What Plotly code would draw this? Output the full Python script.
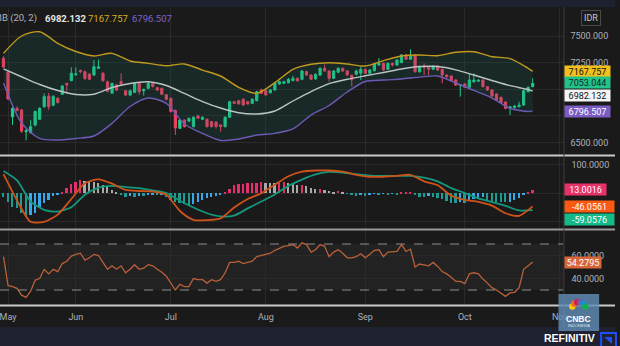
import math
import plotly.graph_objects as go

# ---------------- data ----------------
months = ["May", "Jun", "Jul", "Aug", "Sep", "Oct", "Nov"]
month_idx = [1, 16, 37, 58, 80, 102, 123]

opens = [7290, 7160, 6740, 6820, 6805, 6600, 6590, 6663, 6717, 6835, 6935, 6850, 6915, 6952, 7055, 7080, 7135, 7175, 7165, 7142,
         7133, 7196, 7150, 7070, 6962, 7040, 7072, 6985, 6945, 6970, 7055, 6985, 7008, 7055, 7015, 7008, 6948, 6915, 6800, 6632,
         6710, 6700, 6648, 6748, 6717, 6717, 6695, 6690, 6663, 6648, 6736, 6882, 6892, 6905, 6882, 6867, 6892, 6992, 6985, 6967,
         6992, 7049, 7055, 7061, 7080, 7102, 7093, 7165, 7133, 7096, 7133, 7196, 7171, 7102, 7160, 7196, 7171, 7130, 7140, 7150,
         7187, 7150, 7174, 7227, 7243, 7187, 7243, 7227, 7250, 7321, 7281, 7321, 7164, 7218, 7206, 7187, 7218, 7187, 7133, 7124,
         7086, 7035, 7049, 7018, 7070, 7075, 7086, 7024, 6992, 6955, 6924, 6880, 6820, 6826, 6835, 6851, 6976, 7024]
highs = [7310, 7170, 6830, 6840, 6815, 6625, 6710, 6800, 6830, 6960, 6965, 6945, 6925, 7040, 7060, 7205, 7205, 7185, 7175, 7150,
         7274, 7280, 7160, 7080, 7060, 7050, 7150, 6990, 6995, 7065, 7065, 7005, 7070, 7065, 7020, 7015, 6955, 6920, 6810, 6720,
         6715, 6735, 6745, 6760, 6745, 6725, 6700, 6700, 6670, 6745, 6890, 6890, 6900, 6915, 6890, 6915, 6985, 7005, 6995, 7000,
         7065, 7080, 7080, 7105, 7125, 7110, 7180, 7175, 7140, 7150, 7205, 7230, 7180, 7180, 7205, 7205, 7180, 7140, 7185, 7215,
         7195, 7190, 7245, 7293, 7250, 7250, 7250, 7285, 7330, 7330, 7375, 7330, 7220, 7243, 7215, 7225, 7225, 7195, 7140, 7130,
         7095, 7045, 7055, 7150, 7150, 7095, 7095, 7030, 7000, 6960, 6930, 6885, 6840, 6850, 6882, 6995, 7025, 7102]
lows = [7200, 6900, 6665, 6790, 6590, 6520, 6585, 6650, 6710, 6825, 6805, 6840, 6865, 6945, 6975, 7075, 7130, 7150, 7085, 7085,
        7125, 7190, 7070, 6970, 6955, 6980, 7035, 6935, 6935, 6965, 6950, 6940, 7000, 7015, 6985, 6945, 6895, 6780, 6570, 6625,
        6640, 6690, 6640, 6720, 6710, 6640, 6640, 6630, 6600, 6640, 6730, 6860, 6855, 6845, 6855, 6860, 6885, 6955, 6940, 6960,
        6985, 7040, 7050, 7055, 7075, 7070, 7085, 7125, 7085, 7090, 7125, 7165, 7070, 7095, 7150, 7165, 7125, 7025, 7130, 7086,
        7140, 7145, 7165, 7220, 7175, 7180, 7215, 7220, 7245, 7275, 7275, 7155, 7155, 7133, 7133, 7180, 7170, 7055, 7105, 7070,
        7030, 6930, 7010, 7010, 7060, 7070, 7015, 6985, 6925, 6890, 6865, 6810, 6757, 6820, 6830, 6845, 6970, 7018]
closes = [7209, 6908, 6820, 6800, 6605, 6610, 6648, 6790, 6820, 6930, 6835, 6930, 6875, 7030, 7040, 7150, 7143, 7165, 7102, 7093,
          7212, 7210, 7080, 6980, 7055, 6992, 7050, 6945, 6985, 7055, 6977, 6998, 7055, 7025, 6992, 6952, 6905, 6790, 6635, 6710,
          6648, 6725, 6736, 6727, 6736, 6648, 6648, 6650, 6648, 6736, 6882, 6867, 6861, 6851, 6861, 6905, 6976, 6961, 6945, 6992,
          7055, 7070, 7070, 7093, 7102, 7080, 7171, 7133, 7093, 7140, 7196, 7171, 7102, 7171, 7196, 7171, 7133, 7090, 7171, 7187,
          7150, 7180, 7237, 7243, 7180, 7243, 7227, 7274, 7321, 7281, 7321, 7164, 7211, 7206, 7187, 7218, 7180, 7133, 7118, 7080,
          7039, 7042, 7018, 7086, 7086, 7083, 7024, 6992, 6936, 6898, 6873, 6820, 6835, 6842, 6850, 6986, 7018, 7053.044]
days = list(range(len(closes)))

# Bollinger Bands (20, 2), read every 4 sessions
bb_x = [0, 4, 8, 12, 16, 20, 24, 28, 32, 36, 40, 44, 48, 52, 56, 60, 64, 68, 72, 76, 80, 84, 88, 92, 96, 100, 104, 108, 112, 116, 117]
bb_upper = [7337, 7500, 7540, 7431, 7354, 7312, 7337, 7265, 7243, 7221, 7237, 7180, 7124, 7018, 6961, 7061, 7187, 7234, 7249, 7237,
            7218, 7268, 7312, 7321, 7315, 7347, 7352, 7305, 7287, 7196, 7167.757]
bb_mid = [7190, 7117, 7044, 6988, 6950, 6953, 7016, 7054, 7070, 7035, 6960, 6884, 6823, 6779, 6767, 6795, 6889, 6978, 7052, 7093,
          7126, 7157, 7190, 7213, 7213, 7182, 7133, 7082, 7033, 6997, 6982.132]
bb_lower = [7058, 6682, 6537, 6522, 6537, 6560, 6679, 6837, 6917, 6866, 6673, 6584, 6518, 6532, 6569, 6585, 6626, 6757, 6847, 6974,
            7072, 7086, 7096, 7113, 7124, 7058, 6988, 6917, 6820, 6790, 6796.507]

# MACD lines, read every 3 sessions
macd_x = list(range(0, 118, 3))
macd_line = [67, -25, -100, -100, -75, -20, 35, 49, 34, 12, 8, 6, -5, -62, -93, -94, -88, -50, -20, 0,
             30, 60, 76, 80, 80, 76, 65, 58, 58, 61, 65, 42, 28, -8, -23, -30, -43, -70, -79, -46.0561]
signal_line = [78, 45, -29, -58, -64, -49, -5, 20, 26, 22, 18, 10, 1, -26, -50, -70, -81, -78, -53, -29,
               -4, 26, 48, 66, 75, 73, 67, 62, 61, 61, 61, 55, 42, 18, 1, -18, -31, -44, -60, -59.0576]
hist = [-12, -29, -47, -53, -70, -82, -76, -70, -47, -35, -23, -8, -3, 6, 20, 33, 40, 45, 44, 41,
        38, 36, 29, 22, 12, 5, -3, -12, -8, -12, -8, -9, -6, -3, -6, -5, -12, -23, -29, -35,
        -38, -41, -36, -29, -23, -18, -12, -8, -3, 6, 14, 29, 33, 34, 35, 35.5, 36, 38, 37, 36,
        35, 36, 41, 37, 36, 28, 29, 26, 18, 14, 15, 12, 8, 6, 7, 3, -2, -6, -8, -6,
        -8, -3, -2, -3, -2, -3, -2, -3, 3, 5, 6, -3, -12, -13, -8, -12, -18, -21, -26, -33,
        -34, -29, -33, -23, -21, -18, -14, -23, -26, -29, -30, -32, -29, -23, -18, -6, 6, 13.0016]

rsi = [59, 34, 33, 31.5, 25.5, 23.6, 29, 38.5, 40, 48, 44, 48, 46, 53, 55, 59.5, 61, 62, 56, 58,
       61, 60, 54, 48, 51, 48, 51, 45, 48, 52, 48, 49, 52, 51, 48, 45.5, 42, 36, 30, 35,
       33, 33, 40, 39, 39, 36, 39, 37.5, 39, 45, 54, 54, 55, 53, 54, 55, 59, 60, 61, 62,
       64.5, 66.5, 68, 68.5, 69.5, 66.5, 71, 69.5, 63, 65, 69.5, 68, 59, 63, 65, 62, 58, 58, 59, 61.5,
       58, 61, 64.5, 65, 59, 63, 63.5, 63.5, 69.5, 63.5, 65.5, 50, 52.6, 52, 51, 54, 50.5, 46, 44, 41,
       37.5, 37.5, 35.5, 44, 45, 44, 39.5, 36, 32, 30, 27.5, 24.5, 27.5, 28, 32, 48, 51, 54.2795]

price_ticks = [6500, 6750, 7000, 7250, 7500]
price_ticktext = ["6500.000", "", "", "7250.000", "7500.000"]   # middle labels sit under the value tags
macd_ticks = [-100, 0, 100]
macd_ticktext = ["", "", "100.0000"]
rsi_ticks = [40, 60]
rsi_ticktext = ["40.0000", "60.0000"]
rsi_bands = [30, 70]

# ---------------- styling helpers ----------------
W, H = 620, 346
def fx(px):
    return px / W
def fy(py):
    return 1 - py / H

BG = "#1a1a1a"
GRID = "#2a2a2a"
NAVY = "#1d2130"
TXT = "#aeb1b8"
UP = "#22cf8c"
DN = "#f0415f"
FONT = "Roboto"

fig = go.Figure()

# Bollinger bands
fig.add_trace(go.Scatter(x=bb_x, y=bb_upper, mode="lines", line=dict(color="#bf9a1c", width=1.4, shape="spline", smoothing=0.8),
                         xaxis="x", yaxis="y", hoverinfo="skip"))
fig.add_trace(go.Scatter(x=bb_x, y=bb_lower, mode="lines", line=dict(color="#6c5bb6", width=1.4, shape="spline", smoothing=0.8),
                         fill="tonexty", fillcolor="rgba(25,120,110,0.17)", xaxis="x", yaxis="y", hoverinfo="skip"))
fig.add_trace(go.Scatter(x=bb_x, y=bb_mid, mode="lines", line=dict(color="#b9c3c3", width=1.4, shape="spline", smoothing=0.8),
                         xaxis="x", yaxis="y", hoverinfo="skip"))

fig.add_trace(go.Candlestick(x=days, open=opens, high=highs, low=lows, close=closes,
                             increasing=dict(line=dict(color=UP, width=1), fillcolor=UP),
                             decreasing=dict(line=dict(color=DN, width=1), fillcolor=DN),
                             xaxis="x", yaxis="y", hoverinfo="skip"))

# MACD histogram colours derived from direction
hist_colors = []
for k, h in enumerate(hist):
    prev = hist[k - 1] if k else 0
    if h >= 0:
        hist_colors.append("#e3306b" if h > prev else "#a9a9a9")
    else:
        hist_colors.append("#1e9c94" if h < prev else "#3aa7ea")
fig.add_trace(go.Bar(x=days, y=hist, marker=dict(color=hist_colors, line=dict(width=0)), width=0.4,
                     xaxis="x2", yaxis="y2", hoverinfo="skip"))
fig.add_trace(go.Scatter(x=macd_x, y=signal_line, mode="lines", line=dict(color="#14977a", width=1.8, shape="spline", smoothing=0.7),
                         xaxis="x2", yaxis="y2", hoverinfo="skip"))
fig.add_trace(go.Scatter(x=macd_x, y=macd_line, mode="lines", line=dict(color="#cf5219", width=1.8, shape="spline", smoothing=0.7),
                         xaxis="x2", yaxis="y2", hoverinfo="skip"))

# RSI
fig.add_trace(go.Scatter(x=days, y=rsi, mode="lines", line=dict(color="#b9603a", width=1.3),
                         xaxis="x3", yaxis="y3", hoverinfo="skip"))

xr = [-0.77, 123.8]
xdom = [0, fx(568)]
common_x = dict(range=xr, domain=xdom, tickvals=month_idx, ticktext=months, showgrid=True, gridcolor=GRID,
                gridwidth=1, zeroline=False, showline=False, ticks="", fixedrange=True)
ytick_font = dict(family=FONT, size=9, color=TXT)

fig.update_layout(
    width=W, height=H, margin=dict(l=0, r=0, t=0, b=0),
    paper_bgcolor=BG, plot_bgcolor=BG, showlegend=False, bargap=0,
    xaxis=dict(common_x, anchor="y", showticklabels=False, rangeslider=dict(visible=False)),
    xaxis2=dict(common_x, anchor="y2", showticklabels=False, matches="x"),
    xaxis3=dict(common_x, anchor="y3", showticklabels=True, matches="x", ticklabeloverflow="allow",
                tickfont=dict(family=FONT, size=9, color=TXT), ticklabelstandoff=5),
    yaxis=dict(domain=[fy(155), fy(8)], range=[6381.4, 7763.2], side="right", anchor="x",
               tickvals=price_ticks, ticktext=price_ticktext, showgrid=True, gridcolor=GRID, zeroline=False,
               tickfont=ytick_font, ticks="", ticklabelstandoff=6),
    yaxis2=dict(domain=[fy(229), fy(157)], range=[-125.3, 127.4], side="right", anchor="x2",
                tickvals=macd_ticks, ticktext=macd_ticktext, showgrid=True, gridcolor=GRID, zeroline=False,
                tickfont=ytick_font, ticks="", ticklabelstandoff=7),
    yaxis3=dict(domain=[fy(305), fy(231)], range=[16.96, 81.3], side="right", anchor="x3",
                tickvals=rsi_ticks, ticktext=rsi_ticktext, showgrid=True, gridcolor=GRID, zeroline=False,
                tickfont=ytick_font, ticks="", ticklabelstandoff=7),
)

shapes = []
# RSI band background and dashed limits
shapes.append(dict(type="rect", xref="x3", yref="y3", x0=xr[0], x1=xr[1], y0=rsi_bands[0], y1=rsi_bands[1],
                   fillcolor="#222222", line=dict(width=0), layer="below"))
for lv in rsi_bands:
    shapes.append(dict(type="line", xref="x3", yref="y3", x0=xr[0], x1=xr[1], y0=lv, y1=lv,
                       line=dict(color="#8c8c8c", width=1, dash="dash")))
# top and bottom strips
shapes.append(dict(type="rect", xref="paper", yref="paper", x0=0, x1=1, y0=fy(7), y1=1, fillcolor=NAVY, line=dict(width=0)))
shapes.append(dict(type="rect", xref="paper", yref="paper", x0=0, x1=1, y0=0, y1=fy(327), fillcolor=NAVY, line=dict(width=0)))
# panel separators
for sy, col in [(155.5, "#c9c9c9"), (229.5, "#9a9a9a"), (305.5, "#c9c9c9")]:
    shapes.append(dict(type="line", xref="paper", yref="paper", x0=0, x1=1, y0=fy(sy), y1=fy(sy),
                       line=dict(color=col, width=2)))
# price axis border
shapes.append(dict(type="line", xref="paper", yref="paper", x0=fx(568.5), x1=fx(568.5), y0=fy(327), y1=fy(7),
                   line=dict(color="#3d3d3d", width=1)))
# CNBC logo block
shapes.append(dict(type="rect", xref="paper", yref="paper", x0=fx(563), x1=fx(604), y0=fy(331), y1=fy(294),
                   fillcolor="rgba(96,140,182,0.82)", line=dict(width=0)))
feather = ["#fcc80a", "#f37021", "#cc1f4d", "#6d5fae", "#1a8fd0", "#11b04f"]
for k, col in enumerate(feather):
    ang = math.radians(160 - k * 28)
    cx = 583.5 + 7 * math.cos(ang)
    cy = 309 - 7 * math.sin(ang)
    shapes.append(dict(type="circle", xref="paper", yref="paper", x0=fx(cx - 3.2), x1=fx(cx + 3.2),
                       y0=fy(cy + 3.2), y1=fy(cy - 3.2), fillcolor=col, line=dict(width=0)))
# blue corner box
shapes.append(dict(type="rect", xref="paper", yref="paper", x0=fx(606), x1=fx(621), y0=fy(347), y1=fy(333),
                   fillcolor="rgba(0,0,0,0)", line=dict(color="#1f4dff", width=2)))
shapes.append(dict(type="path", xref="paper", yref="paper",
                   path=f"M {fx(609)} {fy(337)} L {fx(617)} {fy(337)} L {fx(617)} {fy(344)} Z",
                   fillcolor="#1f4dff", line=dict(width=0)))
fig.update_layout(shapes=shapes)

ann = []
# legend row
legend_items = [("BB (20, 2)", -6, "#b2b5be", False),
                (f"{bb_mid[-1]:.3f}", 43, "#e6e6e6", True),
                (f"{bb_upper[-1]:.3f}", 87, "#d7ad1e", False),
                (f"{bb_lower[-1]:.3f}", 131, "#7e63cc", False)]
for text, px, col, bold in legend_items:
    ann.append(dict(xref="paper", yref="paper", x=fx(px), y=fy(18), xanchor="left", yanchor="middle",
                    text=f"<b>{text}</b>" if bold else text, showarrow=False,
                    font=dict(family=FONT, size=9.5, color=col)))
# IDR box
ann.append(dict(xref="paper", yref="paper", x=fx(595.5), y=fy(18), xanchor="center", yanchor="middle",
                text="IDR", showarrow=False,
                font=dict(family=FONT, size=9, color="#c8c8c8"), bgcolor=BG, bordercolor="#4a4a4a",
                borderwidth=1, borderpad=2))

def tag(value, yref, bg, fg, width, shift, fmt):
    return dict(xref="paper", yref=yref, x=fx(568.5), y=value, xanchor="left", yanchor="middle",
                text=format(value, fmt), showarrow=False, bgcolor=bg, width=width, height=10,
                borderpad=0.5, yshift=shift, align="center",
                font=dict(family=FONT, size=9, color=fg))

ann.append(tag(bb_upper[-1], "y", "#f2c01d", "#111111", 44, 0, ".3f"))
ann.append(tag(closes[-1], "y", "#22c38a", "#10251c", 44, 1, ".3f"))
ann.append(tag(bb_mid[-1], "y", "#f4f4f4", "#111111", 44, -4.5, ".3f"))
ann.append(tag(bb_lower[-1], "y", "#7b5cc4", "#ffffff", 44, -1, ".3f"))
ann.append(tag(hist[-1], "y2", "#e8306a", "#ffffff", 40, 0, ".4f"))
ann.append(tag(macd_line[-1], "y2", "#fb5a12", "#ffffff", 48, 0, ".4f"))
ann.append(tag(signal_line[-1], "y2", "#16b98a", "#ffffff", 48, -9, ".4f"))
ann.append(tag(rsi[-1], "y3", "#d8653a", "#ffffff", 35, 0, ".4f"))

# CNBC + Refinitiv
ann.append(dict(xref="paper", yref="paper", x=fx(583.5), y=fy(319), xanchor="center", yanchor="middle",
                text="<b>CNBC</b>", showarrow=False,
                font=dict(family="Liberation Sans", size=8.5, color="#ffffff")))
ann.append(dict(xref="paper", yref="paper", x=fx(583.5), y=fy(325.5), xanchor="center", yanchor="middle",
                text="INDONESIA", showarrow=False,
                font=dict(family="Liberation Sans", size=4, color="#dde6ee")))
ann.append(dict(xref="paper", yref="paper", x=fx(574), y=fy(338), xanchor="center", yanchor="middle",
                text="<b>REFINITIV</b>", showarrow=False,
                font=dict(family="Liberation Sans", size=10.5, color="#ffffff")))
fig.update_layout(annotations=ann)

fig.write_html("out.html")
